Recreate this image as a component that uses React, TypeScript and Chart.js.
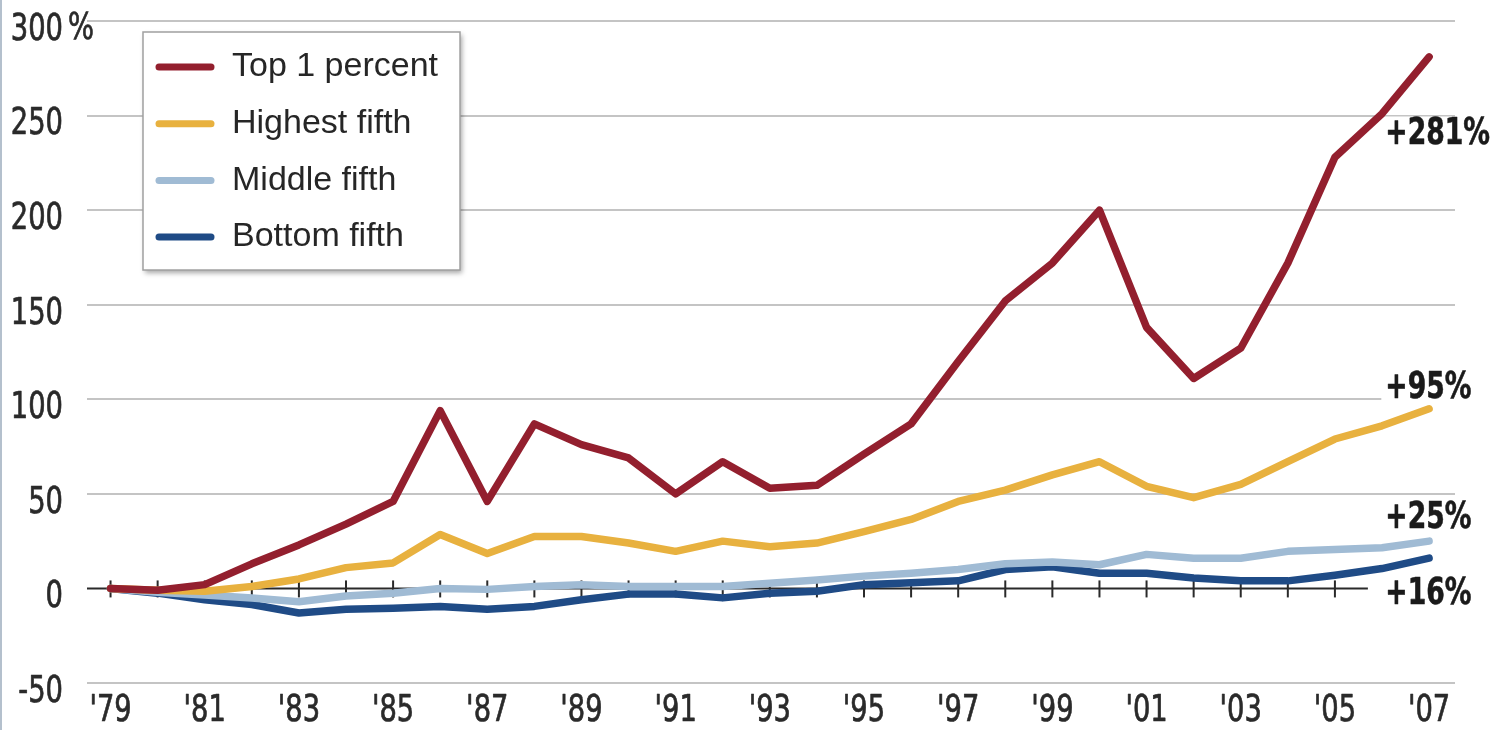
import React, { useEffect, useRef } from 'react';
import { Chart, registerables } from 'chart.js';

Chart.register(...registerables);

const years = [1979, 1980, 1981, 1982, 1983, 1984, 1985, 1986, 1987, 1988, 1989, 1990, 1991, 1992, 1993, 1994, 1995, 1996, 1997, 1998, 1999, 2000, 2001, 2002, 2003, 2004, 2005, 2006, 2007];
const top1 = [0, -1, 2, 13, 23, 34, 46, 94, 46, 87, 76, 69, 50, 67, 53, 54.5, 71, 87, 120, 152, 172, 200, 138, 111, 127, 172, 228, 251, 281];
const highest = [0, -1, -1.5, 1, 5, 11, 13.5, 28.5, 18.5, 27.5, 27.5, 24, 19.6, 25, 22, 24, 30, 36.5, 46, 52, 60, 67, 54, 48, 55, 67, 79, 86, 95];
const middle = [0, -2, -3.5, -5, -7, -4, -2.5, 0, -0.5, 1, 2, 1, 1, 1, 2.7, 4.5, 6.5, 8, 10, 13, 14, 12.5, 18, 16, 16, 19.6, 20.6, 21.5, 25];
const bottom = [0, -2.5, -6, -8.5, -13, -11, -10.5, -9.5, -11, -9.5, -6, -3, -3, -5, -2.5, -1.5, 2, 3, 4, 10, 11.5, 8, 8, 5.5, 4, 4, 7, 10.5, 16];

const seriesNames = ['Top 1 percent', 'Highest fifth', 'Middle fifth', 'Bottom fifth'];
const seriesColors = ['#931f2e', '#e8b13f', '#a0bbd4', '#1f4b86'];
const xTickYears = [1979, 1981, 1983, 1985, 1987, 1989, 1991, 1993, 1995, 1997, 1999, 2001, 2003, 2005, 2007];
const yTicks = [-50, 0, 50, 100, 150, 200, 250, 300];
const endLabels = ['+281%', '+95%', '+25%', '+16%'];
const endLabelValues = [240, 106, 37, -3];

const NARROW = "'Liberation Sans Narrow', 'DejaVu Sans Condensed', 'Arial Narrow', sans-serif";
const REG = "'Liberation Sans', Arial, sans-serif";

function narrowText(ctx: any, text: string, x: number, y: number, align: string, sx: number, stroke = 0) {
  ctx.save();
  ctx.translate(x, y);
  ctx.scale(sx, 1);
  ctx.textAlign = align;
  ctx.textBaseline = 'middle';
  ctx.fillText(text, 0, 0);
  if (stroke > 0) {
    ctx.strokeStyle = ctx.fillStyle;
    ctx.lineWidth = stroke;
    ctx.lineJoin = 'round';
    ctx.strokeText(text, 0, 0);
  }
  ctx.restore();
}

const xTickLabel = (v: number) => "'" + String(v).slice(2);

const decorPlugin = {
  id: 'decor',
  beforeDraw(chart: any) {
    const ctx = chart.ctx;
    ctx.save();
    ctx.fillStyle = '#ffffff';
    ctx.fillRect(0, 0, chart.width, chart.height);
    ctx.fillStyle = '#b4c0cd';
    ctx.fillRect(0, 0, 2, chart.height);
    ctx.restore();
  },
  beforeDatasetsDraw(chart: any) {
    const ctx = chart.ctx;
    const xs = chart.scales.x;
    const ys = chart.scales.y;
    const y0 = ys.getPixelForValue(0);
    ctx.save();
    // end labels with white knock-out behind them
    ctx.font = `bold 38px ${NARROW}`;
    endLabels.forEach((t, i) => {
      const lx = xs.getPixelForValue(2006.07);
      const ly = ys.getPixelForValue(endLabelValues[i]);
      const w = ctx.measureText(t).width * 0.78;
      ctx.fillStyle = '#ffffff';
      ctx.fillRect(lx - 4, ly - 18, w + 8, 36);
    });
    ctx.strokeStyle = '#2a2a2a';
    ctx.lineWidth = 2;
    ctx.beginPath();
    ctx.moveTo(chart.chartArea.left, y0);
    ctx.lineTo(xs.getPixelForValue(2005.7), y0);
    ctx.stroke();
    for (let yr = 1979; yr <= 2005; yr++) {
      const px = xs.getPixelForValue(yr);
      ctx.beginPath();
      ctx.moveTo(px, y0 - 8);
      ctx.lineTo(px, y0 + 9);
      ctx.stroke();
    }
    ctx.fillStyle = '#1a1a1a';
    endLabels.forEach((t, i) => {
      narrowText(ctx, t, xs.getPixelForValue(2006.07), ys.getPixelForValue(endLabelValues[i]), 'left', 0.78, 0.6);
    });
    ctx.restore();
  },
  afterDraw(chart: any) {
    const ctx = chart.ctx;
    const xs = chart.scales.x;
    const ys = chart.scales.y;
    const ca = chart.chartArea;
    ctx.save();
    // axis labels (condensed)
    ctx.fillStyle = '#2a2a2a';
    ctx.font = `38px ${NARROW}`;
    ys.ticks.forEach((t: any) => {
      narrowText(ctx, String(t.value), ca.left - 24, ys.getPixelForValue(t.value) + 9, 'right', 0.8, 0.7);
    });
    narrowText(ctx, '%', ca.left - 19, ys.getPixelForValue(300) + 8, 'left', 0.8, 0.7);
    xs.ticks.forEach((t: any) => {
      narrowText(ctx, xTickLabel(t.value), xs.getPixelForValue(t.value), ca.bottom + 28, 'center', 0.8, 0.7);
    });

    // legend box
    const lx = ca.left + 56;
    const ly = ca.top + 11;
    const lw = 317;
    const lh = 238;
    ctx.save();
    ctx.shadowColor = 'rgba(0,0,0,0.35)';
    ctx.shadowBlur = 5;
    ctx.shadowOffsetX = 2;
    ctx.shadowOffsetY = 3;
    ctx.fillStyle = '#ffffff';
    ctx.fillRect(lx, ly, lw, lh);
    ctx.restore();
    ctx.strokeStyle = '#a0a0a0';
    ctx.lineWidth = 1.5;
    ctx.strokeRect(lx, ly, lw, lh);
    chart.data.datasets.forEach((ds: any, i: number) => {
      const cy = ly + 35 + i * 56.7;
      ctx.strokeStyle = ds.borderColor;
      ctx.lineWidth = 7;
      ctx.lineCap = 'round';
      ctx.beginPath();
      ctx.moveTo(lx + 16, cy);
      ctx.lineTo(lx + 68, cy);
      ctx.stroke();
      ctx.fillStyle = '#262626';
      ctx.font = `34px ${REG}`;
      ctx.textAlign = 'left';
      ctx.textBaseline = 'middle';
      ctx.fillText(ds.label, lx + 89, cy);
    });
    ctx.restore();
  },
};

export default function App() {
  const ref = useRef<HTMLCanvasElement | null>(null);
  useEffect(() => {
    if (!ref.current) return;
    const mk = (vals: number[]) => years.map((y, i) => ({ x: y, y: vals[i] }));
    const all = [top1, highest, middle, bottom];
    const chart = new Chart(ref.current, {
      type: 'line',
      data: {
        datasets: all.map((vals, i) => ({
          label: seriesNames[i],
          data: mk(vals),
          borderColor: seriesColors[i],
          backgroundColor: seriesColors[i],
          borderWidth: 7.5,
          pointRadius: 0,
          tension: 0,
          borderJoinStyle: 'round' as const,
          borderCapStyle: 'round' as const,
        })),
      },
      options: {
        animation: false,
        responsive: true,
        maintainAspectRatio: false,
        layout: { padding: { top: 21, right: 44, left: 0, bottom: 0 } },
        plugins: { legend: { display: false }, tooltip: { enabled: false } },
        scales: {
          x: {
            type: 'linear',
            min: 1978.5,
            max: 2007.55,
            grid: { display: false, drawTicks: false },
            border: { display: false },
            afterBuildTicks: (scale: any) => {
              scale.ticks = xTickYears.map((v) => ({ value: v }));
            },
            afterFit: (scale: any) => {
              scale.height = 47;
              scale.paddingLeft = 0;
              scale.paddingRight = 0;
            },
            ticks: {
              display: false,
              autoSkip: false,
              maxRotation: 0,
              callback: (v: any) => xTickLabel(v),
            },
          },
          y: {
            type: 'linear',
            min: -50,
            max: 300,
            afterBuildTicks: (scale: any) => {
              scale.ticks = yTicks.map((v) => ({ value: v }));
            },
            afterFit: (scale: any) => {
              scale.width = 87;
              scale.paddingTop = 0;
              scale.paddingBottom = 0;
            },
            grid: {
              drawTicks: false,
              color: (c: any) => (c.tick && c.tick.value === 0 ? 'rgba(0,0,0,0)' : '#c4c4c4'),
              lineWidth: 2,
            },
            border: { display: false },
            ticks: {
              display: false,
              callback: (v: any) => String(v),
            },
          },
        },
      },
      plugins: [decorPlugin],
    });
    return () => chart.destroy();
  }, []);
  return (
    <div style={{ position: 'absolute', left: 0, top: 0, width: 1499, height: 730 }}>
      <canvas ref={ref} />
    </div>
  );
}
